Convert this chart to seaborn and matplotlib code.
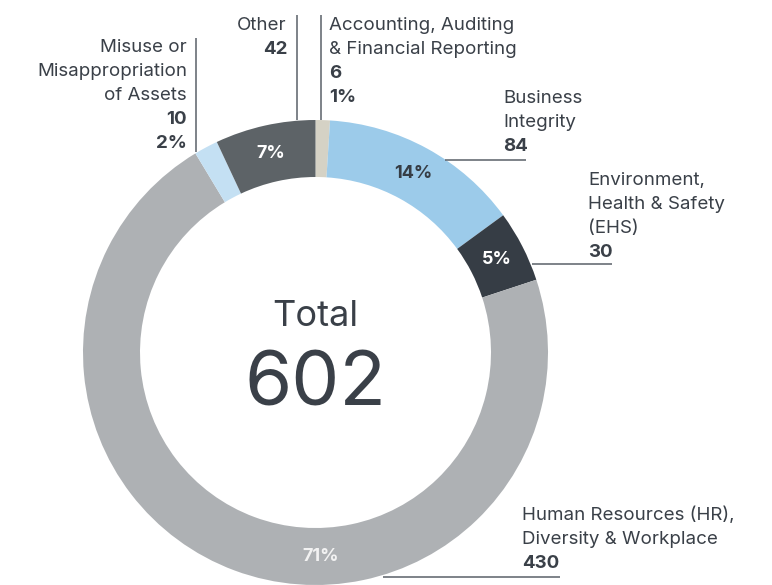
import numpy as np
import matplotlib
matplotlib.use("Agg")
import matplotlib.pyplot as plt
import seaborn as sns

# 数据
categories = ["Accounting, Auditing\n& Financial Reporting", "Business\nIntegrity",
              "Environment,\nHealth & Safety\n(EHS)", "Human Resources (HR),\nDiversity & Workplace",
              "Misuse or\nMisappropriation\nof Assets", "Other"]
counts = [6, 84, 30, 430, 10, 42]
colors = ["#d5d2c5", "#9ccbea", "#363d45", "#aeb1b4", "#c4e0f3", "#5d6367"]
inner_label = [False, True, True, True, False, True]
inner_color = ["white", "#363d45", "white", "#f2f2f2", "white", "white"]

W, H = 772, 585
TXT = "#3a4048"
LINE = "#5a6068"
FS = 13.5

sns.set_theme(style="white")
plt.rcParams["font.family"] = ["Inter", "DejaVu Sans"]

fig = plt.figure(figsize=(W / 100, H / 100), dpi=100)
ax = fig.add_axes([0, 0, 1, 1])

cx, cy, r, ring = 315.5, H - 352.5, 232.5, 57
wedges, _ = ax.pie(counts, colors=colors, startangle=90, counterclock=False,
                   radius=r, center=(cx, cy),
                   wedgeprops=dict(width=ring, edgecolor="none"))

total = sum(counts)
pcts = [round(v / total * 100) for v in counts]

# 环内百分比
for i, w in enumerate(wedges):
    if not inner_label[i]:
        continue
    ang = (w.theta1 + w.theta2) / 2
    if counts[i] == max(counts):
        ang = 271.5
    rr = r - ring / 2
    ax.text(cx + rr * np.cos(np.radians(ang)), cy + rr * np.sin(np.radians(ang)),
            f"{pcts[i]}%", ha="center", va="center", fontsize=13,
            fontweight="bold", color=inner_color[i])

# 中心文字
ax.text(cx, H - 326, "Total", ha="center", va="baseline", fontsize=26, color=TXT)
ax.text(cx, H - 406, f"{total}", ha="center", va="baseline", fontsize=55, color=TXT)


def label(x, y0, lines, bold_lines, ha):
    for k, s in enumerate(lines):
        ax.text(x, H - (y0 + 24 * k), s, ha=ha, va="baseline", fontsize=FS,
                color=TXT, fontweight="bold" if k in bold_lines else "normal")


def seg(x0, y0, x1, y1):
    ax.plot([x0, x1], [H - y0, H - y1], color=LINE, lw=1.1, solid_capstyle="butt")


# Accounting
acc = categories[0].split("\n") + [str(counts[0]), f"{pcts[0]}%"]
label(329, 30, acc, {2, 3}, "left")
seg(321, 15, 321, 120)
# Other
label(287, 30, [categories[5], str(counts[5])], {1}, "right")
seg(297, 15, 297, 120)
# Misuse
mis = categories[4].split("\n") + [str(counts[4]), f"{pcts[4]}%"]
label(187, 52, mis, {3, 4}, "right")
seg(196, 38, 196, 152)
# Business Integrity
label(503, 103, categories[1].split("\n") + [str(counts[1])], {2}, "left")
seg(445, 160, 526, 160)
# EHS
label(588, 185, categories[2].split("\n") + [str(counts[2])], {3}, "left")
seg(532, 264, 612, 264)
# HR
label(522, 520, categories[3].split("\n") + [str(counts[3])], {2}, "left")
seg(383, 577, 560, 577)

ax.set_xlim(0, W)
ax.set_ylim(0, H)
ax.set_aspect("equal")
ax.axis("off")

fig.savefig("out.png", dpi=100)
plt.close(fig)
